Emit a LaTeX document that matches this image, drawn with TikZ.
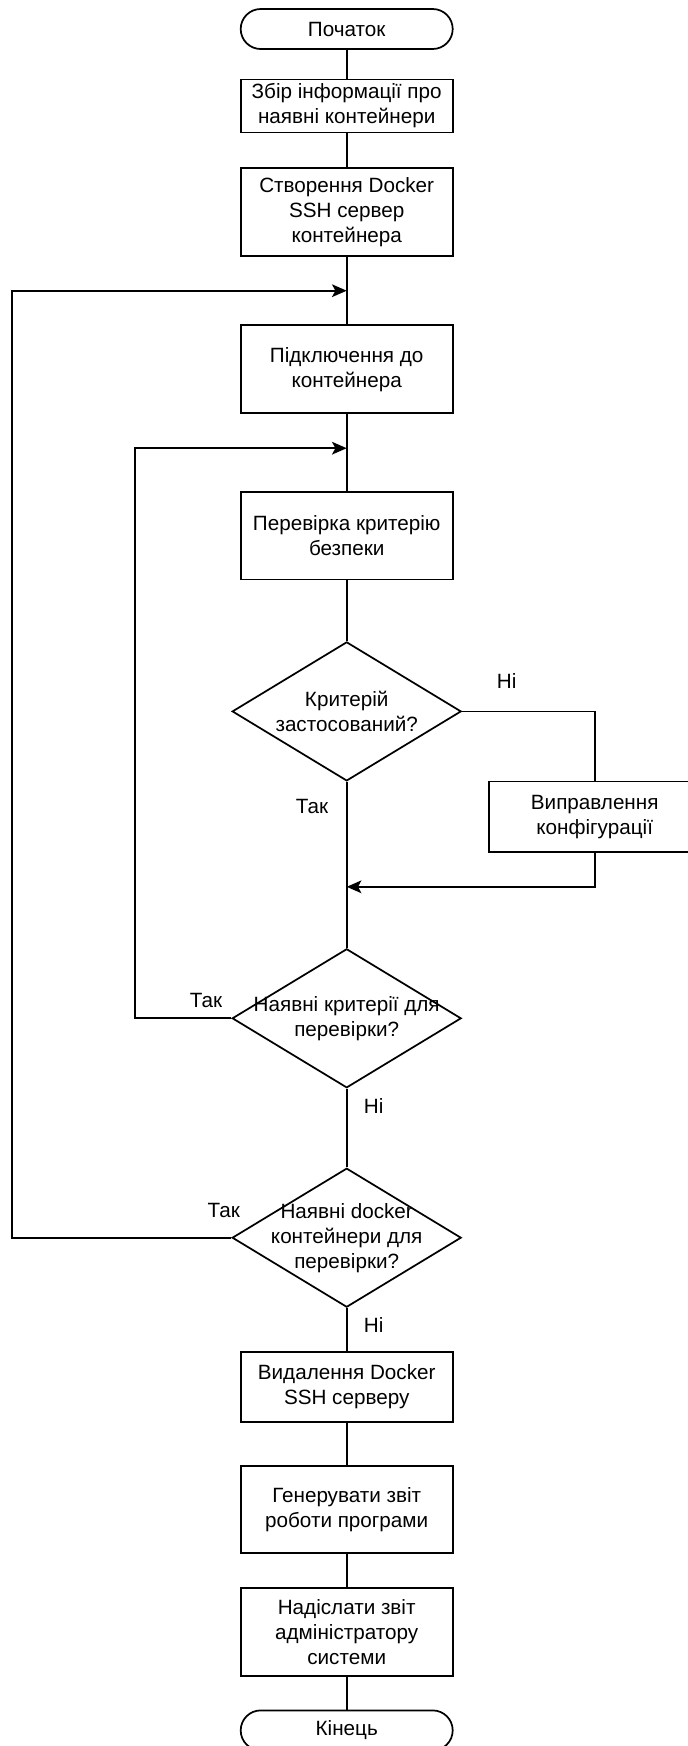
\documentclass[tikz,border=0pt]{standalone}
\usepackage{fontspec}
\setmainfont{Liberation Sans}
\usetikzlibrary{shapes.geometric,arrows.meta}

\tikzset{every picture/.style={line width=1.3pt}}
\tikzset{
  termbox/.style={draw, rectangle, rounded corners=15pt, minimum width=159pt, minimum height=30pt, inner sep=0pt, align=center},
  procbox/.style={draw, rectangle, minimum width=159pt, inner sep=0pt, align=center},
  decision/.style={draw, diamond, minimum width=171.75pt, minimum height=104.25pt, inner sep=0pt},
  flowarrow/.style={-{Stealth[length=11pt,width=9.5pt,inset=2.5pt]}},
  answer/.style={inner sep=0pt}
}

\begin{document}
\begin{tikzpicture}[x=0.75pt,y=0.75pt,yscale=-1,xscale=1,font=\fontsize{15.5}{18.75}\selectfont]
\useasboundingbox (0,0) rectangle (688,1746);

%Shape: Terminal [id:start]
\node (start) [termbox] at (346.7,29) {Початок};
%Shape: Rectangle [id:box1]
\node (box1) [procbox, minimum height=39.75pt] at (346.7,106) {Збір інформації про\\наявні контейнери};
%Shape: Rectangle [id:box2]
\node (box2) [procbox, minimum height=66pt] at (346.7,211.7) {Створення Docker\\SSH сервер\\контейнера};
%Shape: Rectangle [id:box3]
\node (box3) [procbox, minimum height=66pt] at (346.7,369.2) {Підключення до\\контейнера};
%Shape: Rectangle [id:box4]
\node (box4) [procbox, minimum height=65.6pt] at (346.7,535.8) {Перевірка критерію\\безпеки};
%Shape: Diamond [id:dia1]
\node (dia1) [decision] at (346.7,711.4) {};
\node (dia1txt) [align=center] at (dia1) {Критерій\\застосований?};
%Shape: Rectangle [id:box5]
\node (box5) [procbox, minimum height=53pt] at (594.7,816.7) {Виправлення\\конфігурації};
%Shape: Diamond [id:dia2]
\node (dia2) [decision] at (346.7,1018.3) {};
\node (dia2txt) [align=center] at (dia2) {Наявні критерії для\\перевірки?};
%Shape: Diamond [id:dia3]
\node (dia3) [decision] at (346.7,1237.7) {};
\node (dia3txt) [align=center] at (dia3) {Наявні docker\\контейнери для\\перевірки?};
%Shape: Rectangle [id:box6]
\node (box6) [procbox, minimum height=52.5pt] at (346.7,1386.7) {Видалення Docker\\SSH серверу};
%Shape: Rectangle [id:box7]
\node (box7) [procbox, minimum height=65.7pt] at (346.7,1509.5) {Генерувати звіт\\роботи програми};
%Shape: Rectangle [id:box8]
\node (box8) [procbox, minimum height=65.8pt] at (346.7,1632.2) {Надіслати звіт\\адміністратору\\системи};
%Shape: Terminal [id:end]
\node (end) [termbox] at (346.7,1730.4) {Кінець};

%Junction points
\coordinate (jB) at (346.7,290.7);
\coordinate (loopB) at (11.9,290.7);
\coordinate (jA) at (346.7,448.2);
\coordinate (loopA) at (135.2,448.2);
\coordinate (mrg) at (346.7,886.8);

%Straight Lines
\draw (start) -- (box1);
\draw (box1) -- (box2);
\draw (box2) -- (box3);
\draw (box3) -- (box4);
\draw (box4) -- (dia1);
\draw (dia1) -- (dia2);
\draw (dia2) -- (dia3);
\draw (dia3) -- (box6);
\draw (box6) -- (box7);
\draw (box7) -- (box8);
\draw (box8) -- (end);
%Connector: correction branch
\draw (dia1.east) -| (box5.north);
\draw [flowarrow] (box5.south) |- (mrg);
%Connector: loops back
\draw [flowarrow] (dia2.west) -| (loopA) -- (jA);
\draw [flowarrow] (dia3.west) -| (loopB) -- (jB);

% Text Node
\node (no1) [answer] at (506.6,680.7) {Ні};
% Text Node
\node (yes1) [answer] at (312,806) {Так};
% Text Node
\node (yes2) [answer] at (206,1000) {Так};
% Text Node
\node (no2) [answer] at (373.6,1105.7) {Ні};
% Text Node
\node (yes3) [answer] at (223.8,1210) {Так};
% Text Node
\node (no3) [answer] at (373.6,1325) {Ні};

\end{tikzpicture}
\end{document}
